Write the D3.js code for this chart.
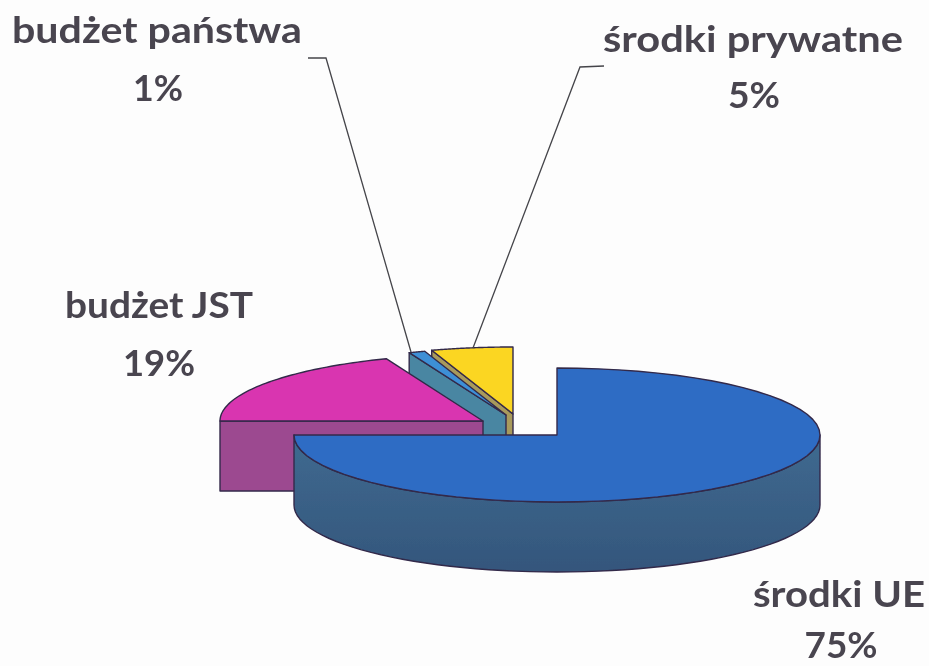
<!DOCTYPE html>
<html>
<head>
<meta charset="utf-8">
<script src="https://cdn.jsdelivr.net/npm/d3@7"></script>
<style>
  html, body { margin: 0; padding: 0; background: #fdfdfd; }
  svg { display: block; }
  .label { font-family: Lato, "Open Sans", sans-serif; font-weight: 700; font-size: 36px; fill: #49454f; text-anchor: middle; }
</style>
</head>
<body>
<svg id="pie"></svg>
<script>
// data
var categories = ["środki UE", "budżet JST", "budżet państwa", "środki prywatne"];
var shares = [75, 19, 1, 5];

// colours per slice
var topColors = ["#2f6cc4", "#d936b0", "#3d8fd6", "#fbd624"];
var cutColors = ["#3f6a90", "#9c4a90", "#4a86a2", "#a89a5c"];

// exploded slice centres, label places [x, name y, name width, percent x, percent y, percent width]
var centers = [[557, 435], [483, 421], [506, 415], [513, 414]];
var labelPos = [
  [839, 607, 172, 841, 658, 73],
  [159, 318, 188, 159, 376, 72],
  [157, 43, 290, 158, 101, 50],
  [753, 52, 300, 754, 108, 52]
];
var leaders = [null, null, [[308, 58], [326, 58], [411, 352]], [[604, 66], [580, 67], [473, 348]]];

var width = 929, height = 666,
    rx = 263, ry = 67, depth = 70;

var svg = d3.select("#pie").attr("width", width).attr("height", height);

var defs = svg.append("defs");
var grad = defs.append("linearGradient").attr("id", "wallUE")
    .attr("x1", 0).attr("y1", 0).attr("x2", 0).attr("y2", 1);
grad.append("stop").attr("offset", "0%").attr("stop-color", "#3f6a90");
grad.append("stop").attr("offset", "100%").attr("stop-color", "#34567c");
defs.append("filter").attr("id", "soft")
  .append("feGaussianBlur").attr("stdDeviation", 0.55);

var slices = d3.pie().sort(null).value(function(d) { return d; })(shares);
var line = d3.line();

// point on the rim, angle clockwise from 12 o'clock
function rim(c, a, dy) {
  return [c[0] + rx * Math.sin(a), c[1] - ry * Math.cos(a) + (dy || 0)];
}
function arcPoints(c, a0, a1, dy) {
  return d3.range(0, 61).map(function(k) { return rim(c, a0 + (a1 - a0) * k / 60, dy); });
}

var order = [3, 2, 1, 0]; // back to front
var g = svg.append("g").attr("stroke", "#33294a").attr("stroke-width", 1.4)
  .attr("stroke-linejoin", "round").attr("filter", "url(#soft)");

order.forEach(function(i) {
  var s = slices[i], c = centers[i];
  var below = [c[0], c[1] + depth];

  // only the start cut faces the viewer for the slices on the left half
  if (Math.sin(s.startAngle) < -0.001) {
    var p = rim(c, s.startAngle);
    g.append("path")
      .attr("d", line([c, p, [p[0], p[1] + depth], below]) + "Z")
      .attr("fill", cutColors[i]);
  }

  // outer wall for the part of the rim that faces the viewer
  var a0 = Math.max(s.startAngle, Math.PI / 2),
      a1 = Math.min(s.endAngle, 3 * Math.PI / 2);
  if (a1 > a0) {
    var pts = arcPoints(c, a0, a1, 0).concat(arcPoints(c, a1, a0, depth));
    g.append("path").attr("d", line(pts) + "Z").attr("fill", i === 0 ? "url(#wallUE)" : cutColors[i]);
  }

  // top face
  g.append("path")
    .attr("d", line([c].concat(arcPoints(c, s.startAngle, s.endAngle, 0))) + "Z")
    .attr("fill", topColors[i]);
});

// leader lines
leaders.forEach(function(l) {
  if (!l) return;
  svg.append("path").attr("d", line(l)).attr("fill", "none")
    .attr("stroke", "#45454a").attr("stroke-width", 1.3);
});

// labels
var labels = svg.append("g").attr("filter", "url(#soft)");
categories.forEach(function(name, i) {
  var p = labelPos[i];
  labels.append("text").attr("class", "label").attr("x", p[0]).attr("y", p[1])
    .attr("textLength", p[2]).attr("lengthAdjust", "spacingAndGlyphs").text(name);
  labels.append("text").attr("class", "label").attr("x", p[3]).attr("y", p[4])
    .attr("textLength", p[5]).attr("lengthAdjust", "spacingAndGlyphs").text(shares[i] + "%");
});
</script>
</body>
</html>
